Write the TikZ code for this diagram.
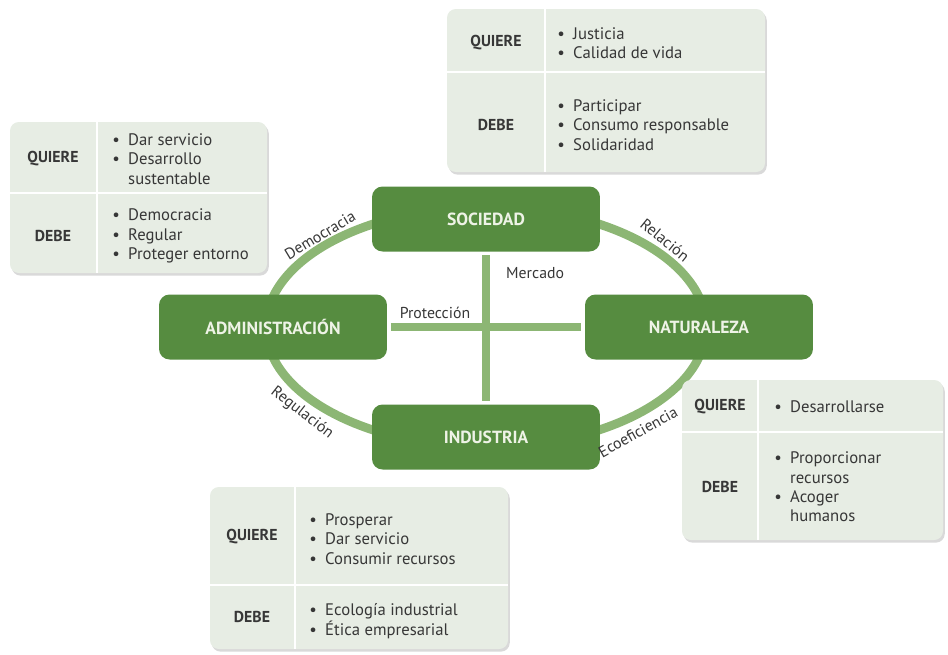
\documentclass[tikz,border=0pt]{standalone}
\usepackage{fontspec}
\setmainfont{PT Sans}
\usetikzlibrary{shadows,fit}
\definecolor{nodegreen}{RGB}{86,140,64}
\definecolor{ringgreen}{RGB}{140,182,116}
\definecolor{boxfill}{RGB}{231,237,228}
\definecolor{inkgray}{RGB}{55,55,55}
\definecolor{nodetext}{RGB}{238,243,230}
\tikzset{actor/.style={fill=nodegreen,rounded corners=6pt,minimum width=4.56cm,minimum height=1.3cm,text=nodetext,font=\fontsize{10}{12}\selectfont\bfseries}}
\tikzset{ring/.style={draw=ringgreen,line width=5pt}}
\tikzset{infobox/.style={fill=boxfill,rounded corners=5pt,inner sep=0pt,drop shadow={shadow xshift=1pt,shadow yshift=-1.5pt,opacity=.3,fill=gray}}}
\tikzset{divider/.style={draw=white,line width=1pt}}
\tikzset{head/.style={text=inkgray,font=\fontsize{9}{11}\selectfont\bfseries}}
\tikzset{items/.style={anchor=west,align=left,inner sep=0pt,text=inkgray,font=\fontsize{9.5}{11}\selectfont}}
\tikzset{link/.style={text=inkgray,font=\fontsize{9}{11}\selectfont}}
\newcommand{\bul}{\textbullet\enspace}
\newcommand{\cnt}{\phantom{\textbullet\enspace}}

\begin{document}
\begin{tikzpicture}[x=0.02cm,y=-0.02cm]
	\useasboundingbox (0,0) rectangle (948,654);
	% ring and cross
	\draw[ring] (486,327) ellipse [x radius=220,y radius=120];
	\node[actor] (soc) at (486,219) {SOCIEDAD};
	\node[actor] (adm) at (273,327) {ADMINISTRACIÓN};
	\node[actor] (nat) at (699,327) {NATURALEZA};
	\node[actor] (ind) at (486,437) {INDUSTRIA};
	\draw[ring,shorten <=2pt,shorten >=2pt] (soc.south) -- (ind.north);
	\draw[ring,shorten <=2pt,shorten >=2pt] (adm.east) -- (nat.west);
	%
	\node[link,anchor=west] (mer) at (500,273) {Mercado};
	\node[link] (pro) at (435,313) {Protección};
	\node[link,rotate=31] (dem) at (320,235) {Democracia};
	\node[link,rotate=-39] (rel) at (665,240) {Relación};
	\node[link,rotate=-38] (reg) at (302,413) {Regulación};
	\node[link,rotate=29,inner sep=1pt] (eco) at (638,432) {Ecoeficiencia};
	%
	% sociedad
	\node[infobox,fit={(447,9) (765,172)}] (tsoc) {};
	\draw[divider] (545,9) -- (545,172);
	\draw[divider] (447,72) -- (765,72);
	\node[head] (tsocq) at (496,43) {QUIERE};
	\node[head] (tsocd) at (496,125) {DEBE};
	\node[items] (tsocqi) at (557,43) {\bul Justicia\\\bul Calidad de vida};
	\node[items] (tsocdi) at (557,125) {\bul Participar\\\bul Consumo responsable\\\bul Solidaridad};
	%
	% administracion
	\node[infobox,fit={(10,122) (267,273)}] (tadm) {};
	\draw[divider] (97,122) -- (97,273);
	\draw[divider] (10,193) -- (267,193);
	\node[head] (tadmq) at (53,159) {QUIERE};
	\node[head] (tadmd) at (53,236) {DEBE};
	\node[items] (tadmqi) at (112,159) {\bul Dar servicio\\\bul Desarrollo\\\cnt sustentable};
	\node[items] (tadmdi) at (112,236) {\bul Democracia\\\bul Regular\\\bul Proteger entorno};
	%
	% naturaleza
	\node[infobox,fit={(682,380) (943,540)}] (tnat) {};
	\draw[divider] (758,380) -- (758,540);
	\draw[divider] (682,432) -- (943,432);
	\node[head] (tnatq) at (720,407) {QUIERE};
	\node[head] (tnatd) at (720,487) {DEBE};
	\node[items] (tnatqi) at (774,407) {\bul Desarrollarse};
	\node[items] (tnatdi) at (774,487) {\bul Proporcionar\\\cnt recursos\\\bul Acoger\\\cnt humanos};
	%
	% industria
	\node[infobox,fit={(210,487) (508,649)}] (tind) {};
	\draw[divider] (295,487) -- (295,649);
	\draw[divider] (210,585) -- (508,585);
	\node[head] (tindq) at (252,537) {QUIERE};
	\node[head] (tindd) at (252,617) {DEBE};
	\node[items] (tindqi) at (309,539) {\bul Prosperar\\\bul Dar servicio\\\bul Consumir recursos};
	\node[items] (tinddi) at (309,621) {\bul Ecología industrial\\\bul Ética empresarial};
\end{tikzpicture}
\end{document}
